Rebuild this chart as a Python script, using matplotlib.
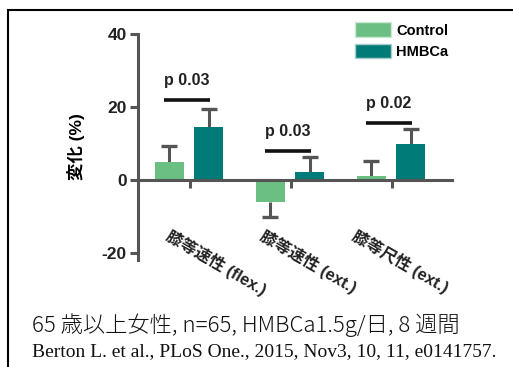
import matplotlib.pyplot as plt
import numpy as np
from matplotlib.patches import Rectangle, Patch

plt.rcParams['font.family'] = ['Liberation Sans', 'Noto Sans CJK JP']

groups = ["膝等速性 (flex.)", "膝等速性 (ext.)", "膝等尺性 (ext.)"]
control = [4.9, -6.1, 1.0]
control_err = [4.4, 4.2, 4.1]
hmbca = [14.6, 2.2, 9.9]
hmbca_err = [4.9, 4.0, 4.1]
p_labels = ["p 0.03", "p 0.03", "p 0.02"]
p_levels = [21.8, 7.8, 15.5]

c_ctrl = '#6bbf83'
c_hmb = '#007b78'
c_axis = '#555555'

fig = plt.figure(figsize=(5.13, 3.67), dpi=100)
ax = fig.add_axes([0.269, 0.2916, 0.612, 0.6158])

x = np.arange(len(groups))
w = 0.287
xc = x - 0.205
xh = x + 0.185

ax.bar(xc, control, w, color=c_ctrl, zorder=2)
ax.bar(xh, hmbca, w, color=c_hmb, zorder=2)

# one-sided error bars, drawn outward from the bar end
for xs, vals, errs in [(xc, control, control_err), (xh, hmbca, hmbca_err)]:
    vals = np.array(vals)
    tips = vals + np.sign(vals) * np.array(errs)
    ax.vlines(xs, vals, tips, color=c_axis, lw=2.2, zorder=1)
    ax.plot(xs, tips, ls='none', marker='_', ms=12, mew=2.4, color=c_axis, zorder=1)

# significance lines
for i in range(len(groups)):
    ax.plot([xc[i] - 0.05, xh[i] + 0.01], [p_levels[i]] * 2, color='#111111',
            lw=2.6, solid_capstyle='butt')
    ax.text((xc[i] + xh[i]) / 2 - 0.02, p_levels[i] + 3.4, p_labels[i],
            ha='center', va='bottom', fontsize=11.5, fontweight='bold', color='#222222')

ax.set_xlim(-0.515, 2.594)
ax.set_ylim(-22, 40)
ax.set_yticks([-20, 0, 20, 40])
ax.set_yticklabels(['-20', '0', '20', '40'])
ax.set_xticks(x)
ax.set_xticklabels([])

for s in ['top', 'right']:
    ax.spines[s].set_visible(False)
ax.spines['bottom'].set_position(('data', 0))
for s in ['left', 'bottom']:
    ax.spines[s].set_color(c_axis)
    ax.spines[s].set_linewidth(2.2)
ax.tick_params(axis='both', color=c_axis, width=2.2, length=6, direction='out')
ax.tick_params(axis='y', labelsize=12.5, pad=2)
for t in ax.get_yticklabels():
    t.set_fontweight('bold')
    t.set_color('#222222')

ax.set_ylabel("変化 (%)", fontsize=12.5, fontweight='bold', labelpad=12)

# rotated category labels
label_x = [-0.18, 0.75, 1.66]
for lx, g in zip(label_x, groups):
    ax.text(lx, -12.9, g, rotation=-30, rotation_mode='anchor', ha='left', va='top',
            fontsize=11.7, fontweight='bold', color='#222222')

handles = [Patch(facecolor=c_ctrl, edgecolor='#cfe8d6', label='Control'),
           Patch(facecolor=c_hmb, edgecolor='#a8cfcd', label='HMBCa')]
fig.legend(handles=handles, loc='upper left', bbox_to_anchor=(0.667, 0.975), frameon=False,
           prop={'size': 10.5, 'weight': 'bold'}, handlelength=2.47, handleheight=1.2,
           handletextpad=0.35, labelspacing=0.4)

fig.text(32 / 513, 1 - 332 / 367, "65 歳以上女性, n=65, HMBCa1.5g/日, 8 週間",
         fontsize=16, family=['Noto Sans CJK JP'], fontweight='light', va='baseline',
         color='#111111')
fig.text(32 / 513, 1 - 356 / 367, "Berton L. et al., PLoS One., 2015, Nov3, 10, 11, e0141757.",
         fontsize=14, family=['Liberation Serif'], va='baseline', color='#111111')

fig.patches.append(Rectangle((8 / 513, -0.2), 1.2, 1.2 - 10 / 367,
                             transform=fig.transFigure, fill=False, ec='black', lw=1.5))

fig.savefig('out.png', dpi=100)
